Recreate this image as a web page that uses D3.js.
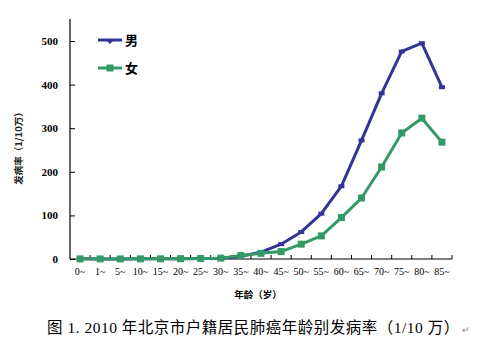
<!DOCTYPE html>
<html>
<head>
<meta charset="utf-8">
<script src="https://cdn.jsdelivr.net/npm/d3@7/dist/d3.min.js"></script>
<style>
  html, body { margin: 0; padding: 0; background: #fff; }
  svg { display: block; }
</style>
</head>
<body>
<svg id="chart" width="482" height="341"></svg>
<script>
// Age groups (years)
const ageGroups = ["0~","1~","5~","10~","15~","20~","25~","30~","35~","40~","45~","50~","55~","60~","65~","70~","75~","80~","85~"];
// Age-specific lung cancer incidence per 100,000
const maleRates   = [0.3, 0.2, 0.2, 0.3, 0.5, 0.8, 1.2, 2, 6, 16, 34, 62, 104, 167, 272, 380, 476, 495, 394];
const femaleRates = [0.3, 0.2, 0.2, 0.3, 0.5, 0.8, 1.2, 2, 8, 13, 17, 34, 53, 95, 140, 211, 289, 323, 268];
const yTicks = [0, 100, 200, 300, 400, 500];
const seriesNames = ["男", "女"];
const seriesColors = ["#333399", "#339966"];

const svg = d3.select("#chart");
const plotLeft = 70, plotRight = 452, plotTop = 41, plotBottom = 259;

const x = d3.scaleBand().domain(ageGroups).range([plotLeft, plotRight]);
const y = d3.scaleLinear().domain([0, 500]).range([plotBottom, plotTop]);

// Y axis
const yAxis = svg.append("g")
  .attr("transform", `translate(${plotLeft},0)`)
  .call(d3.axisLeft(y).tickValues(yTicks).tickSize(-5).tickPadding(12));
yAxis.select(".domain").attr("stroke", "#000").attr("stroke-width", 1.2).attr("d", `M0,${plotTop - 22}V${plotBottom}`);
yAxis.selectAll(".tick line").attr("stroke", "#000");
yAxis.selectAll("text")
  .attr("font-family", "'Liberation Serif', serif")
  .attr("font-weight", "bold")
  .attr("font-size", 11)
  .attr("fill", "#000");

// X axis with ticks between categories
const xAxis = svg.append("g")
  .attr("transform", `translate(0,${plotBottom})`)
  .call(d3.axisBottom(x).tickSize(0).tickPadding(9));
xAxis.select(".domain").attr("stroke", "#000").attr("stroke-width", 1.2).attr("d", `M${plotLeft},0H${plotRight}`);
xAxis.selectAll("text")
  .attr("font-family", "'Liberation Serif', serif")
  .attr("font-size", 10)
  .attr("fill", "#000");
svg.append("g").selectAll("line")
  .data(ageGroups)
  .join("line")
  .attr("x1", d => x(d) + x.bandwidth())
  .attr("x2", d => x(d) + x.bandwidth())
  .attr("y1", plotBottom - 4)
  .attr("y2", plotBottom)
  .attr("stroke", "#000");

// Axis titles
svg.append("text")
  .attr("transform", "translate(22,146) rotate(-90)")
  .attr("text-anchor", "middle")
  .attr("font-family", "'Noto Sans CJK SC', sans-serif")
  .attr("font-weight", "bold")
  .attr("font-size", 9.5)
  .attr("fill", "#222")
  .text("发病率（1/10万）");

svg.append("text")
  .attr("x", 258).attr("y", 298)
  .attr("text-anchor", "middle")
  .attr("font-family", "'Noto Sans CJK SC', sans-serif")
  .attr("font-weight", "bold")
  .attr("font-size", 9.5)
  .attr("fill", "#000")
  .text("年龄（岁）");

// Lines
const line = d3.line()
  .x((d, i) => x(ageGroups[i]) + x.bandwidth() / 2)
  .y(d => y(d));

const allSeries = [maleRates, femaleRates];
allSeries.forEach((vals, s) => {
  svg.append("path")
    .datum(vals)
    .attr("fill", "none")
    .attr("stroke", seriesColors[s])
    .attr("stroke-width", 3)
    .attr("stroke-linejoin", "round")
    .attr("d", line);
});

// Male markers: short horizontal dashes
svg.append("g").selectAll("rect")
  .data(maleRates)
  .join("rect")
  .attr("x", (d, i) => x(ageGroups[i]) + x.bandwidth() / 2 - 3)
  .attr("y", d => y(d) - 2)
  .attr("width", 6).attr("height", 4)
  .attr("fill", seriesColors[0]);

// Female markers: squares
svg.append("g").selectAll("rect")
  .data(femaleRates)
  .join("rect")
  .attr("x", (d, i) => x(ageGroups[i]) + x.bandwidth() / 2 - 3.5)
  .attr("y", d => y(d) - 3.5)
  .attr("width", 7).attr("height", 7)
  .attr("fill", seriesColors[1]);

// Legend
const legend = svg.append("g");
seriesNames.forEach((name, s) => {
  const ly = 40 + s * 28;
  legend.append("line")
    .attr("x1", 98).attr("x2", 122)
    .attr("y1", ly).attr("y2", ly)
    .attr("stroke", seriesColors[s]).attr("stroke-width", 3);
  if (s === 0) {
    legend.append("path")
      .attr("d", `M106,${ly}L114,${ly}L110,${ly + 4}Z`)
      .attr("fill", seriesColors[s]);
  } else {
    legend.append("rect")
      .attr("x", 106.5).attr("y", ly - 3.5)
      .attr("width", 7).attr("height", 7)
      .attr("fill", seriesColors[s]);
  }
  legend.append("text")
    .attr("x", 125).attr("y", ly + 5)
    .attr("font-family", "'Noto Sans CJK SC', sans-serif")
    .attr("font-weight", "bold")
    .attr("font-size", 13)
    .attr("fill", "#000")
    .text(name);
});

// Caption
const cap = svg.append("text")
  .attr("x", 47).attr("y", 333)
  .attr("font-family", "'Liberation Serif', 'Noto Sans CJK SC', serif")
  .attr("font-size", 15.5)
  .attr("letter-spacing", 0.5)
  .attr("fill", "#000");
cap.append("tspan").text("图 1. 2010 年北京市户籍居民肺癌年龄别发病率（1/10 万）");
cap.append("tspan").attr("font-size", 9).attr("fill", "#888").attr("dx", 2).text("↵");
</script>
</body>
</html>
